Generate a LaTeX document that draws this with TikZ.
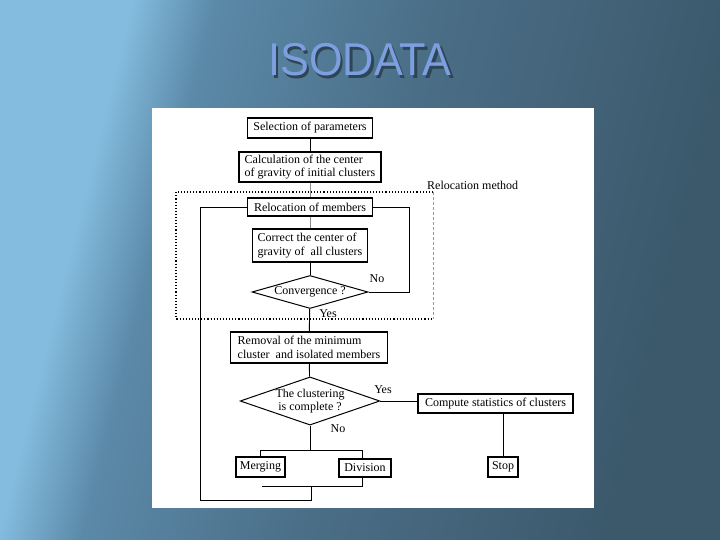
\documentclass[tikz,border=0pt]{standalone}
\usepackage{fontspec}
\setmainfont{Liberation Serif}
\newfontfamily\titlefont{Liberation Sans}
\usetikzlibrary{shapes.geometric}

\definecolor{bgL}{HTML}{84BCDF}
\definecolor{bgM}{HTML}{5B89A8}
\definecolor{bgC}{HTML}{4B6F88}
\definecolor{bgD}{HTML}{3C596C}
\definecolor{titleblue}{HTML}{7D9FE0}
\definecolor{titleshadow}{HTML}{2D4555}
\pgfdeclarehorizontalshading{slide}{100bp}{color(0bp)=(bgL); color(29bp)=(bgL); color(35bp)=(bgM); color(50bp)=(bgC); color(72bp)=(bgD); color(100bp)=(bgD)}

\begin{document}
\begin{tikzpicture}[
	x=1pt, y=-1pt,
	font=\fontsize{12}{13.5}\selectfont,
	box/.style={draw, line width=1.1pt, fill=white, inner sep=2pt, align=left},
	decision/.style={draw, diamond, line width=1pt, fill=white, inner sep=0pt, align=center},
	link/.style={line width=0.9pt},
	faint/.style={draw=black!45, line width=0.6pt},
	note/.style={inner sep=0pt}
	]
	\useasboundingbox (0,0) rectangle (720,540);
	\shade[shading=slide, shading angle=-14] (0,0) rectangle (720,540);
	
	% title
	\node[note, text=titleshadow, font=\titlefont\fontsize{46}{46}\selectfont, xscale=0.94] at (362.5,62.5) {ISODATA};
	\node[note, text=titleblue, font=\titlefont\fontsize{46}{46}\selectfont, xscale=0.94] (title) at (360,60) {ISODATA};
	
	% panel
	\fill[white] (152,108) rectangle (594,508);
	
	\coordinate (splitL) at (260.5,450);
	\coordinate (splitR) at (362,450);
	\coordinate (joinL) at (262,486);
	\coordinate (joinR) at (362,486);
	\coordinate (join) at (311.5,486);
	\coordinate (back) at (200,500);
	\coordinate (ret) at (409,291);
	
	\draw[link] (splitL) -- (splitR) -- (joinR) -- (joinL);
	
	% relocation method frame
	\draw[dotted, line width=1.1pt] (433,192) -- (176,192) -- (176,319) -- (433,319);
	\draw[densely dashed, black!40, line width=0.6pt] (433,192) -- (433,319);
	\node[note, anchor=west] (relm) at (427,185) {Relocation method};
	
	\node[box, minimum width=125pt, minimum height=20pt] (sel) at (310,128) {Selection of parameters};
	\node[box, minimum width=142pt, minimum height=30pt] (calc) at (310,167) {Calculation of the center\\of gravity of initial clusters};
	\node[box, minimum width=125pt, minimum height=18pt] (reloc) at (310,207) {Relocation of members};
	\node[box, minimum width=115pt, minimum height=33pt] (corr) at (310,245.5) {Correct the center of\\gravity of \ all clusters};
	\node[decision, aspect=3.5, minimum width=116pt, minimum height=33pt] (conv) at (310,292) {Convergence ?};
	\node[box, minimum width=157pt, minimum height=31pt] (remv) at (309,347.5) {Removal of the minimum\\cluster \ and isolated members};
	\node[decision, aspect=2.9, minimum width=138pt, minimum height=48pt] (clus) at (310,401) {The clustering\\is complete ?};
	\node[box, minimum width=155pt, minimum height=19pt] (comp) at (495.5,403.5) {Compute statistics of clusters};
	\node[box, minimum width=30pt, minimum height=20pt] (stop) at (503,467) {Stop};
	\node[box, minimum width=49pt, minimum height=20pt] (merg) at (260.5,467) {Merging};
	\node[box, minimum width=52pt, minimum height=18pt] (divi) at (365,468) {Division};
	
	\draw[link] (sel) -- (calc);
	\draw[faint] (calc) -- (reloc);
	\draw[faint] (reloc) -- (corr);
	\draw[link] (corr) -- (conv);
	\draw[link] (conv) -- (remv);
	\draw[link] (remv) -- (clus);
	\draw[link] (conv.east) -- (conv.east -| ret) -- (reloc.east -| ret) -- (reloc.east);
	\draw[link] (reloc.west) -- (reloc.west -| back) -- (back) -- (back -| join) -- (join);
	\draw[link] (clus.south) -- (clus.south |- splitL);
	\draw[link] (splitL) -- (merg.north);
	\draw[link] (clus.east) -- (clus.east -| comp.west);
	\draw[link] (comp.south -| stop) -- (stop.north);
	
	\node[note] (no1) at (377,279) {No};
	\node[note] (yes1) at (328,314) {Yes};
	\node[note] (yes2) at (383,390) {Yes};
	\node[note] (no2) at (338,429) {No};
\end{tikzpicture}
\end{document}
